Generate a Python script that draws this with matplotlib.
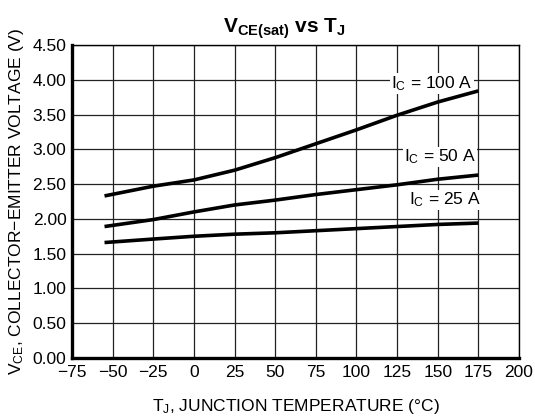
import matplotlib
matplotlib.use("Agg")
import matplotlib.pyplot as plt
import numpy as np

plt.rcParams['font.family'] = ['Liberation Sans', 'DejaVu Sans']
plt.rcParams['mathtext.fontset'] = 'custom'
plt.rcParams['mathtext.rm'] = 'Liberation Sans'
plt.rcParams['mathtext.it'] = 'Liberation Sans'
plt.rcParams['mathtext.bf'] = 'Liberation Sans:bold'

temps = [-55, -25, 0, 25, 50, 75, 100, 125, 150, 175]
v_100a = [2.33, 2.47, 2.56, 2.70, 2.88, 3.08, 3.28, 3.49, 3.68, 3.84]
v_50a = [1.89, 1.99, 2.10, 2.20, 2.27, 2.35, 2.42, 2.49, 2.57, 2.63]
v_25a = [1.66, 1.71, 1.75, 1.78, 1.80, 1.83, 1.86, 1.89, 1.92, 1.94]
labels = ["I$_\\mathrm{C}$ = 100 A", "I$_\\mathrm{C}$ = 50 A", "I$_\\mathrm{C}$ = 25 A"]
label_pos = [(146.5, 3.95), (151.5, 2.89), (154.5, 2.27)]
xticks = [-75, -50, -25, 0, 25, 50, 75, 100, 125, 150, 175, 200]
yticks = [0.0, 0.5, 1.0, 1.5, 2.0, 2.5, 3.0, 3.5, 4.0, 4.5]

FS = 12.5

fig = plt.figure(figsize=(5.35, 4.19), dpi=100)
ax = fig.add_axes([0.1346, 0.1456, 0.8354, 0.747])

for v in (v_100a, v_50a, v_25a):
    ax.plot(temps, v, color='black', lw=2.6, solid_capstyle='butt', zorder=5)

for lab, (x, y) in zip(labels, label_pos):
    ax.text(x, y, lab, ha='center', va='center', fontsize=FS, zorder=4,
            bbox=dict(facecolor='white', edgecolor='none', pad=0.8))

ax.set_xlim(-75, 200)
ax.set_ylim(0, 4.5)
ax.set_xticks(xticks)
ax.set_yticks(yticks)
ax.set_xticklabels([str(t).replace('-', '\u2212') for t in xticks], fontsize=FS)
ax.set_yticklabels([f"{t:.2f}" for t in yticks], fontsize=FS)
ax.tick_params(axis='y', length=0, pad=4)
ax.tick_params(axis='x', length=0, pad=5)
ax.grid(True, color='#222222', lw=0.9, zorder=1)
ax.set_axisbelow(True)
for s in ('left', 'bottom'):
    ax.spines[s].set_linewidth(2.4)
for s in ('top', 'right'):
    ax.spines[s].set_linewidth(1.0)

ax.set_xlabel("T$_\\mathrm{J}$, JUNCTION TEMPERATURE (\u00b0C)", fontsize=FS, labelpad=12)
ax.set_ylabel("V$_\\mathrm{CE}$, COLLECTOR\u2212EMITTER VOLTAGE (V)", fontsize=FS, labelpad=5)
ax.set_title("$\\mathbf{V_{CE(sat)}}$ vs T$_\\mathbf{J}$", fontsize=15, fontweight='bold',
             pad=9, x=0.474)

fig.savefig("out.png", dpi=100)
